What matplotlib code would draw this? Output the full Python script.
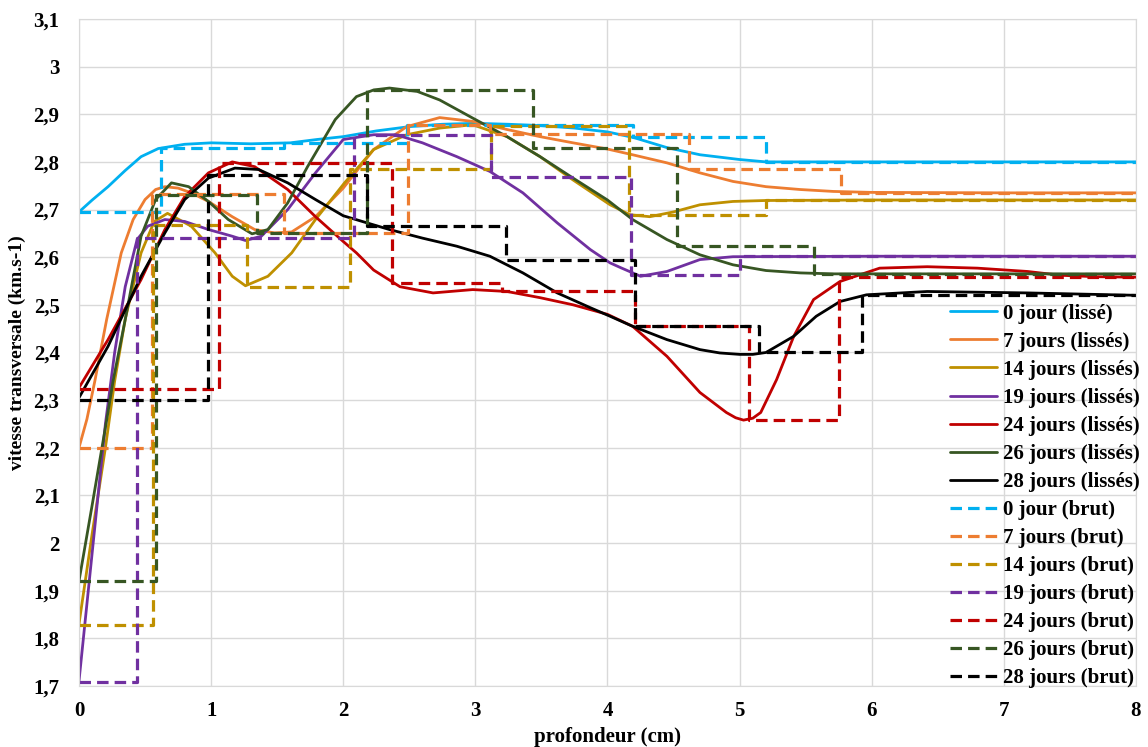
import numpy as np
import matplotlib.pyplot as plt
from matplotlib.ticker import FuncFormatter

# Courbes lissées (profondeur en cm, vitesse en km/s)
x_j0_l = [0, 0.1, 0.22, 0.35, 0.47, 0.6, 0.8, 1.0, 1.3, 1.6, 1.8, 2.0, 2.25, 2.5, 2.75, 3.0, 3.25, 3.5, 3.75, 4.0, 4.2, 4.45, 4.7, 5.0, 5.2, 6, 7, 8]
v_j0_l = [2.695, 2.72, 2.748, 2.782, 2.811, 2.828, 2.837, 2.84, 2.838, 2.84, 2.847, 2.853, 2.865, 2.874, 2.879, 2.881, 2.879, 2.876, 2.871, 2.863, 2.851, 2.83, 2.815, 2.805, 2.80, 2.80, 2.80, 2.80]

x_j7_l = [0, 0.06, 0.12, 0.21, 0.32, 0.41, 0.5, 0.58, 0.65, 0.75, 0.85, 0.98, 1.16, 1.33, 1.48, 1.61, 1.79, 2.0, 2.23, 2.48, 2.73, 2.98, 3.24, 3.49, 3.74, 4.0, 4.19, 4.45, 4.7, 4.95, 5.2, 5.46, 5.71, 6, 7, 8]
v_j7_l = [2.2, 2.26, 2.34, 2.47, 2.609, 2.679, 2.721, 2.742, 2.748, 2.745, 2.735, 2.717, 2.685, 2.658, 2.651, 2.653, 2.685, 2.745, 2.826, 2.874, 2.893, 2.885, 2.868, 2.853, 2.84, 2.827, 2.815, 2.798, 2.777, 2.759, 2.748, 2.742, 2.738, 2.736, 2.735, 2.735]

x_j14_l = [0, 0.1, 0.2, 0.27, 0.35, 0.47, 0.57, 0.67, 0.85, 1.03, 1.16, 1.26, 1.43, 1.61, 1.79, 2.01, 2.23, 2.48, 2.73, 2.98, 3.24, 3.49, 3.74, 4.02, 4.17, 4.32, 4.5, 4.7, 4.95, 5.2, 6, 7, 8]
v_j14_l = [1.83, 2.02, 2.2, 2.34, 2.47, 2.609, 2.675, 2.692, 2.665, 2.609, 2.56, 2.54, 2.56, 2.609, 2.679, 2.756, 2.826, 2.857, 2.871, 2.878, 2.853, 2.811, 2.762, 2.71, 2.689, 2.685, 2.695, 2.71, 2.717, 2.719, 2.72, 2.72, 2.72]

x_j19_l = [0, 0.1, 0.2, 0.27, 0.35, 0.44, 0.52, 0.65, 0.8, 0.98, 1.16, 1.26, 1.38, 1.58, 1.79, 2.0, 2.23, 2.4, 2.6, 2.86, 3.11, 3.36, 3.62, 3.87, 4.02, 4.1, 4.25, 4.45, 4.7, 4.95, 6, 7, 8]
v_j19_l = [1.71, 1.98, 2.25, 2.40, 2.538, 2.637, 2.665, 2.679, 2.675, 2.658, 2.644, 2.635, 2.644, 2.70, 2.777, 2.847, 2.857, 2.857, 2.84, 2.811, 2.78, 2.735, 2.672, 2.616, 2.588, 2.578, 2.56, 2.57, 2.595, 2.601, 2.602, 2.602, 2.602]

x_j24_l = [0, 0.22, 0.47, 0.65, 0.8, 0.98, 1.16, 1.33, 1.58, 1.79, 2.0, 2.1, 2.23, 2.43, 2.68, 2.98, 3.24, 3.49, 3.74, 4.0, 4.19, 4.45, 4.7, 4.9, 4.97, 5.03, 5.1, 5.16, 5.28, 5.41, 5.56, 5.76, 6.06, 6.42, 6.8, 7.18, 7.43, 7.7, 8]
v_j24_l = [2.326, 2.427, 2.553, 2.658, 2.727, 2.777, 2.80, 2.79, 2.742, 2.685, 2.633, 2.609, 2.573, 2.538, 2.525, 2.532, 2.528, 2.515, 2.50, 2.48, 2.455, 2.392, 2.316, 2.274, 2.263, 2.258, 2.262, 2.274, 2.343, 2.434, 2.511, 2.549, 2.577, 2.58, 2.577, 2.57, 2.562, 2.559, 2.558]

x_j26_l = [0, 0.1, 0.21, 0.26, 0.35, 0.47, 0.58, 0.7, 0.83, 0.98, 1.13, 1.31, 1.43, 1.58, 1.73, 1.94, 2.1, 2.23, 2.35, 2.56, 2.73, 2.98, 3.24, 3.49, 3.74, 4.0, 4.19, 4.45, 4.7, 4.95, 5.2, 5.46, 5.71, 6, 7, 8]
v_j26_l = [1.92, 2.08, 2.259, 2.343, 2.469, 2.644, 2.721, 2.756, 2.748, 2.717, 2.679, 2.649, 2.658, 2.714, 2.79, 2.889, 2.937, 2.951, 2.955, 2.948, 2.93, 2.892, 2.853, 2.811, 2.766, 2.72, 2.679, 2.637, 2.605, 2.584, 2.572, 2.567, 2.565, 2.565, 2.565, 2.565]

x_j28_l = [0, 0.22, 0.47, 0.65, 0.8, 0.98, 1.18, 1.36, 1.58, 1.79, 2.0, 2.18, 2.35, 2.6, 2.86, 3.11, 3.36, 3.62, 3.87, 4.02, 4.19, 4.45, 4.7, 4.85, 5.0, 5.1, 5.2, 5.41, 5.58, 5.76, 5.96, 6.42, 7.18, 8]
v_j28_l = [2.305, 2.413, 2.56, 2.651, 2.721, 2.766, 2.787, 2.784, 2.756, 2.721, 2.687, 2.672, 2.658, 2.64, 2.623, 2.602, 2.567, 2.525, 2.494, 2.476, 2.455, 2.427, 2.406, 2.399, 2.396, 2.396, 2.40, 2.434, 2.476, 2.507, 2.521, 2.528, 2.525, 2.52]

# Données brutes (paliers) : limites des couches et vitesse de chaque couche
x_j0_b = [0, 0.62, 1.55, 2.48, 4.19, 5.2, 8]
v_j0_b = [2.695, 2.829, 2.84, 2.878, 2.853, 2.80]

x_j7_b = [0, 0.555, 1.55, 2.49, 3.11, 4.62, 5.77, 8]
v_j7_b = [2.2, 2.733, 2.651, 2.878, 2.859, 2.785, 2.735]

x_j14_b = [0, 0.56, 1.27, 2.05, 3.12, 4.16, 5.2, 8]
v_j14_b = [1.829, 2.668, 2.538, 2.785, 2.875, 2.689, 2.72]

x_j19_b = [0, 0.44, 2.08, 3.12, 4.18, 5.0, 8]
v_j19_b = [1.709, 2.641, 2.857, 2.769, 2.563, 2.602]

x_j24_b = [0, 1.06, 2.37, 3.2, 4.21, 5.07, 5.75, 8]
v_j24_b = [2.324, 2.798, 2.546, 2.529, 2.455, 2.259, 2.558]

x_j26_b = [0, 0.58, 1.35, 2.18, 3.44, 4.53, 5.56, 8]
v_j26_b = [1.921, 2.731, 2.651, 2.95, 2.829, 2.624, 2.565]

x_j28_b = [0, 0.98, 2.18, 3.23, 4.21, 5.15, 5.93, 8]
v_j28_b = [2.30, 2.773, 2.665, 2.595, 2.455, 2.40, 2.52]

jours = ['0 jour', '7 jours', '14 jours', '19 jours', '24 jours', '26 jours', '28 jours']
couleurs = ['#00B0F0', '#ED7D31', '#BF9000', '#7030A0', '#C00000', '#375623', '#000000']

lisses = [(x_j0_l, v_j0_l), (x_j7_l, v_j7_l), (x_j14_l, v_j14_l), (x_j19_l, v_j19_l),
          (x_j24_l, v_j24_l), (x_j26_l, v_j26_l), (x_j28_l, v_j28_l)]
bruts = [(x_j0_b, v_j0_b), (x_j7_b, v_j7_b), (x_j14_b, v_j14_b), (x_j19_b, v_j19_b),
         (x_j24_b, v_j24_b), (x_j26_b, v_j26_b), (x_j28_b, v_j28_b)]

plt.rcParams['font.family'] = ['Liberation Serif', 'DejaVu Serif']
plt.rcParams['font.weight'] = 'bold'

fig = plt.figure(figsize=(11.48, 7.47), dpi=100)
ax = fig.add_axes([0.0688, 0.0817, 0.9207, 0.8929])

for i, (x, v) in enumerate(lisses):
    lab = f'{jours[i]} (lissé)' if i == 0 else f'{jours[i]} (lissés)'
    ax.plot(x, v, color=couleurs[i], lw=2.0, label=lab, solid_capstyle='round', solid_joinstyle='round')

for i, (x, v) in enumerate(bruts):
    ax.step(x, v + [v[-1]], where='post', color=couleurs[i], lw=2.3,
            linestyle=(0, (3.6, 1.9)), label=f'{jours[i]} (brut)')

ax.set_xlim(0, 8)
ax.set_ylim(1.7, 3.1)
ax.set_xticks(np.arange(0, 9, 1))
ax.set_yticks(np.round(np.arange(1.7, 3.15, 0.1), 1))
ax.yaxis.set_major_formatter(FuncFormatter(lambda y, p: f'{y:g}'.replace('.', ',')))
ax.grid(True, color='#d9d9d9', lw=1)
ax.set_axisbelow(True)
for s in ax.spines.values():
    s.set_color('#d9d9d9')
ax.tick_params(length=0, labelsize=15)
ax.tick_params(axis='x', pad=11)
ax.tick_params(axis='y', pad=14)

ax.set_xlabel('profondeur (cm)', fontsize=15, fontweight='bold')
ax.xaxis.set_label_coords(0.5, -0.061)
ax.set_ylabel('vitesse transversale (km.s-1)', fontsize=14, fontweight='bold')
ax.yaxis.set_label_coords(-0.05, 0.5)

ax.legend(loc='lower left', bbox_to_anchor=(950 / 1148, 1 - 688 / 747), bbox_transform=fig.transFigure,
          frameon=False, fontsize=15, handlelength=2.26, handletextpad=0.3, labelspacing=0.385,
          borderpad=0, borderaxespad=0)

plt.savefig('out.png', dpi=100)
